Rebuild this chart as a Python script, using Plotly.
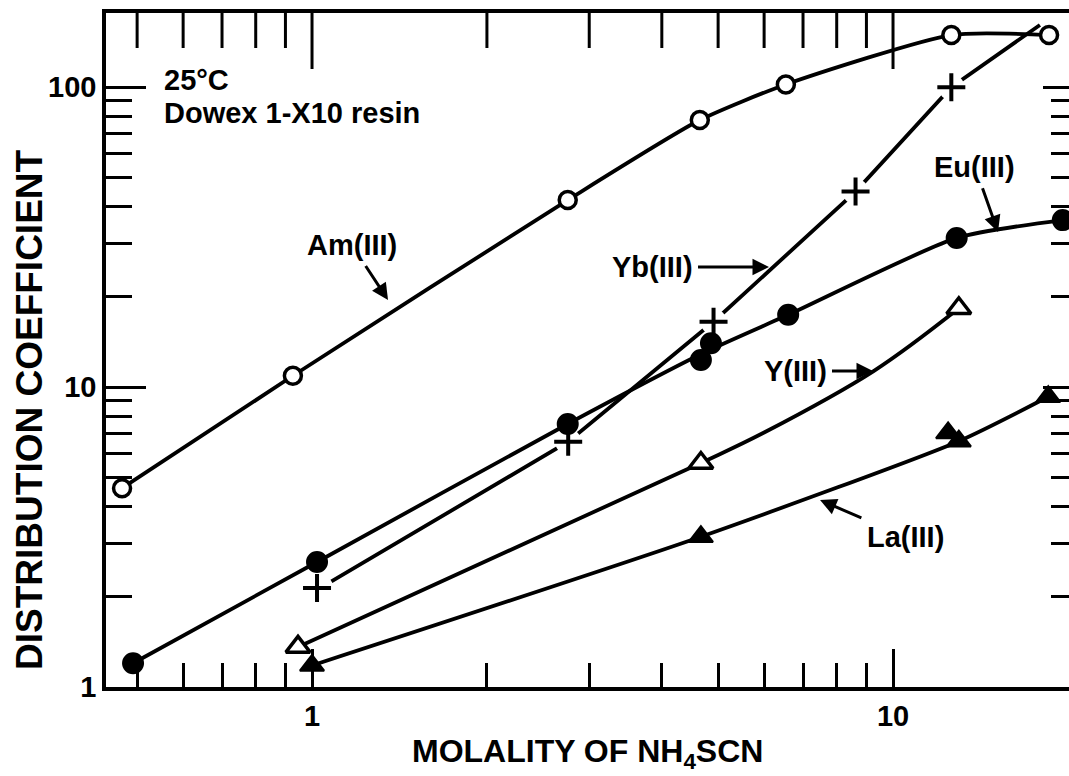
import plotly.graph_objects as go

# Molality of NH4SCN (m) and distribution coefficient for each ion
am_m = [0.471, 0.927, 2.755, 4.65, 6.54, 12.6, 18.56]
am_d = [4.6, 10.9, 42.0, 77.6, 102, 149, 149]

eu_m = [0.492, 1.02, 2.755, 4.67, 4.86, 6.6, 12.87, 19.6]
eu_d = [1.20, 2.61, 7.53, 12.3, 14.0, 17.4, 31.4, 36.0]

yb_m = [1.02, 2.76, 4.91, 8.62, 12.6]
yb_d = [2.14, 6.57, 16.5, 44.8, 99.8]

y_m = [0.946, 4.67, 12.98]
y_d = [1.36, 5.58, 18.3]

la_m = [1.0, 4.67, 12.44, 12.98, 18.5]
la_d = [1.18, 3.17, 7.03, 6.6, 9.28]

# Smooth curves drawn through each data set
am_curve_m, am_curve_d = am_m, am_d
eu_curve_m = [0.492, 1.02, 2.755, 4.76, 6.6, 12.87, 19.6]
eu_curve_d = [1.20, 2.61, 7.53, 13.1, 17.4, 31.4, 36.0]
yb_curve_m = [1.08, 2.76, 4.91, 8.62, 12.6, 17.9]
yb_curve_d = [2.25, 6.57, 16.5, 44.8, 99.8, 161]
y_curve_m = [0.946, 4.67, 6.0, 9.26, 12.98]
y_curve_d = [1.36, 5.58, 7.05, 11.3, 18.3]
la_curve_m = [1.0, 4.67, 12.98, 18.5]
la_curve_d = [1.18, 3.17, 6.6, 9.28]

# Axis ticks
x_major = [1, 10]
x_minor = [0.5, 0.6, 0.7, 0.8, 0.9, 2, 3, 4, 5, 6, 7, 8, 9]
y_major = [1, 10, 100]
y_minor = [2, 3, 4, 5, 6, 7, 8, 9, 20, 30, 40, 50, 60, 70, 80, 90]

FONT = "Liberation Sans, Arial, sans-serif"
INK = "black"
X_RANGE = [-0.3546, 1.3029]
Y_RANGE = [0, 2.2467]
Y_TOP = 10 ** Y_RANGE[1]

fig = go.Figure()

curves = [
    (am_curve_m, am_curve_d, "spline", 0.6), (eu_curve_m, eu_curve_d, "spline", 0.6),
    (yb_curve_m, yb_curve_d, "linear", 0), (y_curve_m, y_curve_d, "spline", 1.0),
    (la_curve_m, la_curve_d, "spline", 0.6),
]
for cm, cd, shape, smooth in curves:
    fig.add_trace(go.Scatter(x=cm, y=cd, mode="lines",
                             line=dict(color=INK, width=3.8, shape=shape, smoothing=smooth),
                             hoverinfo="skip", showlegend=False))

# White halo that breaks the Yb(III) line around each cross
fig.add_trace(go.Scatter(x=yb_m, y=yb_d, mode="markers",
                         marker=dict(symbol="circle", size=26, color="white"),
                         hoverinfo="skip", showlegend=False))

markers = [
    (am_m, am_d, "circle", "white", 17, 3.5),
    (eu_m, eu_d, "circle", INK, 20, 2),
    (yb_m, yb_d, "cross-thin", INK, 20, 4),
    (y_m, y_d, "triangle-up", "white", 21, 3.5),
    (la_m, la_d, "triangle-up", INK, 21, 2),
]
for mm, md, sym, fill, size, lw in markers:
    fig.add_trace(go.Scatter(x=mm, y=md, mode="markers",
                             marker=dict(symbol=sym, size=size, color=fill,
                                         line=dict(color=INK, width=lw)),
                             showlegend=False))

# Tick marks hanging from the top frame edge (half of each mark is clipped away)
for vals, length in ((x_major, 40), (x_minor, 25)):
    fig.add_trace(go.Scatter(x=vals, y=[Y_TOP] * len(vals), mode="markers", cliponaxis=True,
                             marker=dict(symbol="line-ns", size=2 * length,
                                         line=dict(color=INK, width=3)),
                             hoverinfo="skip", showlegend=False))

# Right-hand tick axis
fig.add_trace(go.Scatter(x=[], y=[], xaxis="x", yaxis="y2", showlegend=False, hoverinfo="skip"))

tick_font = dict(family=FONT, size=29, color=INK, weight="bold")


def minor_ticks(vals, length):
    return dict(tickmode="array", tickvals=vals, ticks="inside",
                ticklen=length, tickwidth=3, tickcolor=INK, showgrid=False)


fig.update_layout(
    width=1069, height=776,
    margin=dict(l=106, r=0, t=13, b=89),
    paper_bgcolor="white", plot_bgcolor="white",
    font=dict(family=FONT, color=INK),
    xaxis=dict(
        type="log", range=X_RANGE,
        tickmode="array", tickvals=x_major, ticktext=[str(v) for v in x_major],
        ticks="inside", ticklen=38, tickwidth=3, tickcolor=INK,
        minor=minor_ticks(x_minor, 24),
        showline=True, linewidth=3.5, linecolor=INK, mirror=True,
        showgrid=False, zeroline=False, tickfont=tick_font, automargin=False,
    ),
    yaxis=dict(
        type="log", range=Y_RANGE,
        tickmode="array", tickvals=y_major, ticktext=[str(v) for v in y_major],
        ticks="inside", ticklen=40, tickwidth=3, tickcolor=INK,
        minor=minor_ticks(y_minor, 26),
        showline=True, linewidth=3.5, linecolor=INK,
        showgrid=False, zeroline=False, tickfont=tick_font, automargin=False,
    ),
    yaxis2=dict(
        type="log", range=Y_RANGE, overlaying="y", side="right", anchor="x",
        tickmode="array", tickvals=y_major,
        ticks="inside", ticklen=26, tickwidth=3, tickcolor=INK,
        minor=minor_ticks(y_minor, 18),
        showline=False, showgrid=False, zeroline=False, showticklabels=False,
        automargin=False,
    ),
)

label_font = dict(family=FONT, size=29, color=INK, weight="bold")

# Plain text labels (log-axis annotation coordinates are log10 values)
fig.add_annotation(text="25°C", x=-0.2582, y=2.0233, xref="x", yref="y",
                   showarrow=False, xanchor="left", yanchor="middle", font=label_font)
fig.add_annotation(text="Dowex 1-X10 resin", x=-0.2582, y=1.913, xref="x", yref="y",
                   showarrow=False, xanchor="left", yanchor="middle", font=label_font)

# Curve labels with pointer arrows: (text, label x, label y, arrow head x, arrow head y)
pointers = [
    ("Am(III)", 0.0688, 1.473, 0.1308, 1.29),
    ("Yb(III)", 0.5852, 1.40, 0.7866, 1.40),
    ("Eu(III)", 1.1411, 1.7333, 1.1807, 1.5167),
    ("Y(III)", 0.8313, 1.0533, 0.9656, 1.0533),
    ("La(III)", 1.0207, 0.50, 0.8744, 0.6233),
]
for t, lx, ly, hx, hy in pointers:
    fig.add_annotation(text=t, x=hx, y=hy, ax=lx, ay=ly, xref="x", yref="y",
                       axref="x", ayref="y", showarrow=True, arrowhead=2,
                       arrowsize=1.1, arrowwidth=3, arrowcolor=INK,
                       startstandoff=4, font=label_font)

# Axis titles
fig.add_annotation(text="MOLALITY OF NH<sub>4</sub>SCN", x=0.5, y=-0.099,
                   xref="paper", yref="paper", showarrow=False,
                   xanchor="center", yanchor="middle",
                   font=dict(family=FONT, size=32, color=INK, weight="bold"))
fig.add_annotation(text="DISTRIBUTION COEFFICIENT", x=-0.079, y=0.411,
                   xref="paper", yref="paper", textangle=-90, showarrow=False,
                   xanchor="center", yanchor="middle",
                   font=dict(family=FONT, size=37, color=INK, weight="bold"))

fig.write_html("out.html")
